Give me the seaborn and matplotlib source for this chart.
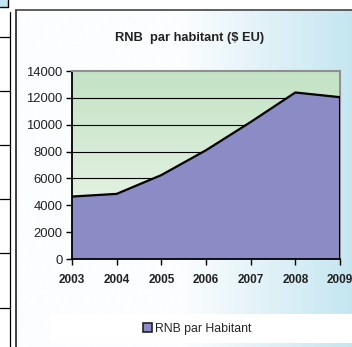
import numpy as np
import pandas as pd
import seaborn as sns
import matplotlib.pyplot as plt
from matplotlib.colors import LinearSegmentedColormap
from matplotlib.patches import Rectangle, Patch

years = [2003, 2004, 2005, 2006, 2007, 2008, 2009]
rnb = [4650, 4850, 6250, 8100, 10200, 12400, 12050]
y_ticks = [0, 2000, 4000, 6000, 8000, 10000, 12000, 14000]
title = "RNB  par habitant ($ EU)"
legend_label = "RNB par Habitant"

df = pd.DataFrame({"Year": years, "RNB": rnb})

sns.set_style("white")
plt.rcParams['font.family'] = ['Liberation Sans', 'DejaVu Sans']

fig = plt.figure(figsize=(3.52, 3.47), dpi=100)
fig.patch.set_facecolor("white")

# background layer in pixel coordinates
bg = fig.add_axes([0, 0, 1, 1], zorder=0)
bg.set_xlim(0, 352)
bg.set_ylim(347, 0)
bg.axis("off")

blue_grad = LinearSegmentedColormap.from_list("bl", ["#fbfdfe", "#fbfdfe", "#c5e6f1"])
grad = np.linspace(0, 1, 256).reshape(1, -1)
bg.imshow(grad, cmap=blue_grad, extent=(16, 352, 347, 10), aspect="auto")
bg.add_patch(Rectangle((50, 314), 302, 29, facecolor="white", edgecolor="none"))
bg.plot([16, 16], [10, 347], color="#222222", lw=1.2)
bg.plot([16, 352], [10, 10], color="#444444", lw=1.2)

# neighbouring table on the left
bg.add_patch(Rectangle((0, 0), 8, 7, facecolor="#bfe6f2", edgecolor="none"))
bg.plot([8, 8], [0, 7], color="black", lw=1)
bg.plot([0, 8], [7, 7], color="black", lw=1)
bg.plot([9.5, 9.5], [12, 347], color="black", lw=0.9)
for yy in [37, 91, 145, 199, 253, 308]:
    bg.plot([0, 9.5], [yy, yy], color="black", lw=0.9)

fig.text(190 / 352, 1 - 38 / 347, title, ha="center", va="center",
         fontsize=9.3, fontweight="bold", color="#222222")

ax = fig.add_axes([72 / 352, 1 - 259 / 347, 268 / 352, 188 / 347], zorder=1)
green_grad = LinearSegmentedColormap.from_list("gr", ["#f1f8ee", "#c3e2c4"])
ax.imshow(np.linspace(0, 1, 256).reshape(-1, 1), cmap=green_grad, origin="lower",
          extent=(2003, 2009, 0, 14000), aspect="auto", zorder=0)

for t in y_ticks[1:-1]:
    ax.axhline(t, color="black", lw=0.8, zorder=1)

ax.fill_between(df["Year"], df["RNB"], color="#8b8bc5", edgecolor="none", zorder=2)
sns.lineplot(data=df, x="Year", y="RNB", color="black", linewidth=1.6, ax=ax, zorder=3)
ax.plot([2009, 2009], [0, rnb[-1]], color="black", lw=1.5, zorder=3)

ax.set_xlim(2003, 2009)
ax.set_ylim(0, 14000)
ax.set_xticks(years)
ax.set_xticklabels([str(y) for y in years], fontweight="bold", fontsize=8.5)
ax.set_yticks(y_ticks)
ax.set_yticklabels([str(t) for t in y_ticks], fontsize=9.4)
ax.set_xlabel("")
ax.set_ylabel("")
ax.tick_params(axis="both", direction="out", length=4, width=1, color="black",
               colors="#222222", bottom=True, left=True, pad=3)
ax.tick_params(axis="x", pad=7)
ax.spines["left"].set_color("black")
ax.spines["bottom"].set_color("black")
ax.spines["left"].set_linewidth(1.3)
ax.spines["bottom"].set_linewidth(1.3)
ax.spines["top"].set_color("#909090")
ax.spines["right"].set_color("#909090")
ax.spines["top"].set_linewidth(1.5)
ax.spines["right"].set_linewidth(1.5)
ax.set_facecolor("none")

handle = Patch(facecolor="#8b8bc5", edgecolor="#222222", linewidth=1.2)
fig.legend([handle], [legend_label], loc="center", bbox_to_anchor=(0.56, 1 - 329 / 347),
           frameon=False, fontsize=8.8, handlelength=0.75, handleheight=0.75,
           handletextpad=0.25, borderpad=0)

fig.savefig("out.png", dpi=100)
